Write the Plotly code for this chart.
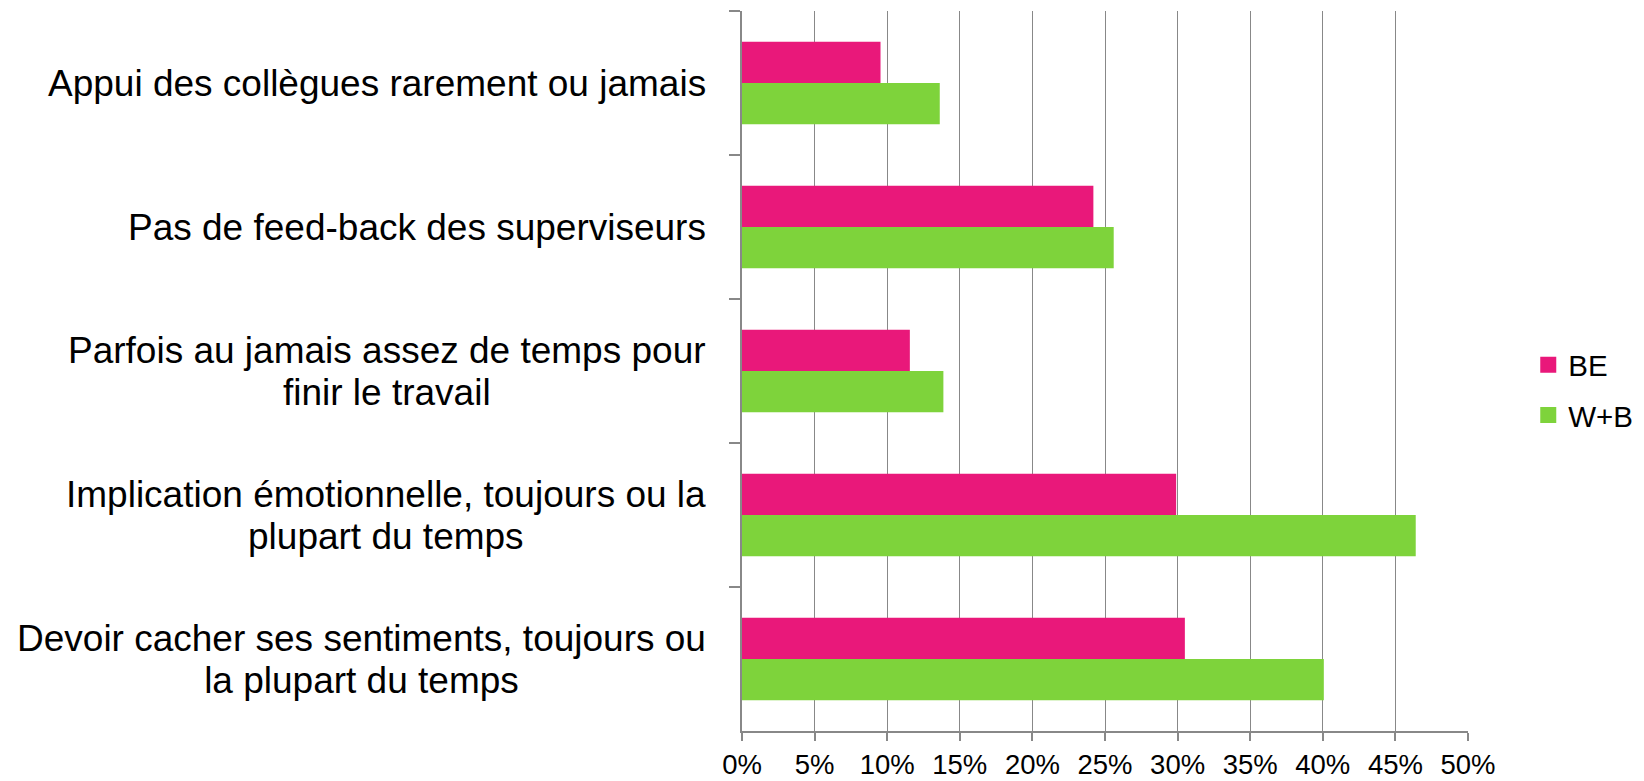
import plotly.graph_objects as go

categories = [
    "Appui des collègues rarement ou jamais",
    "Pas de feed-back des superviseurs",
    "Parfois au jamais assez de temps pour<br>finir le travail",
    "Implication émotionnelle, toujours ou la<br>plupart du temps",
    "Devoir cacher ses sentiments, toujours ou<br>la plupart du temps",
]
series_names = ["BE", "W+B"]
be_values = [0.0954, 0.242, 0.1156, 0.299, 0.305]
wb_values = [0.1362, 0.256, 0.1387, 0.464, 0.4007]
tick_values = [0, 0.05, 0.10, 0.15, 0.20, 0.25, 0.30, 0.35, 0.40, 0.45, 0.50]
tick_labels = ["0%", "5%", "10%", "15%", "20%", "25%", "30%", "35%", "40%", "45%", "50%"]

colors = ["#E9187A", "#7ED33B"]
FONT = "Arial, Liberation Sans, sans-serif"
GRID = "#888888"

fig = go.Figure()
for name, vals, col in zip(series_names, [be_values, wb_values], colors):
    fig.add_trace(go.Bar(
        y=categories, x=vals, name=name, orientation="h",
        marker=dict(color=col, line=dict(width=0)),
        showlegend=False,
    ))
# legend entries with larger square swatches
for name, col in zip(series_names, colors):
    fig.add_trace(go.Scatter(
        x=[None], y=[None], mode="markers", name=name,
        marker=dict(symbol="square", size=16, color=col),
        legendgroup=name, showlegend=True,
    ))

# category labels: centered multi-line annotations, tighter line spacing
label_size = 37
line_gap = 41.7
base_size = line_gap / 1.3
for cat in categories:
    lines = cat.split("<br>")
    txt = "<br>".join(
        "<span style='font-size:%dpx'>%s</span>" % (label_size, ln) for ln in lines
    )
    fig.add_annotation(
        x=-0.047, xref="paper", y=cat, yref="y",
        text=txt, showarrow=False, xanchor="right", yanchor="middle",
        align="center",
        font=dict(family=FONT, size=base_size, color="#000000"),
    )

# figure sits inside an 8px page margin
fig.update_layout(
    width=1636, height=773,
    margin=dict(l=734, r=176, t=3, b=50, autoexpand=False),
    paper_bgcolor="white", plot_bgcolor="white",
    barmode="group", bargap=0.428, bargroupgap=0,
    font=dict(family=FONT, color="#000000"),
    legend=dict(
        x=1.083, y=0.4736, xanchor="left", yanchor="middle",
        font=dict(family=FONT, size=29.5, color="#000000"),
        tracegroupgap=9, traceorder="grouped",
        bgcolor="rgba(0,0,0,0)",
    ),
)
fig.update_xaxes(
    range=[0, 0.5], tickvals=tick_values, ticktext=tick_labels,
    showgrid=True, gridcolor=GRID, gridwidth=1.4,
    showline=True, linecolor=GRID, linewidth=1.5,
    ticks="outside", ticklen=8, tickcolor=GRID, tickwidth=1.5,
    tickfont=dict(family=FONT, size=27.5, color="#000000"),
    ticklabelstandoff=0, automargin=False,
    zeroline=False, fixedrange=True,
)
fig.update_yaxes(
    autorange="reversed", categoryorder="array", categoryarray=categories,
    showticklabels=False, showgrid=False, automargin=False,
    showline=True, linecolor=GRID, linewidth=1.5,
    ticks="outside", ticklen=11, tickcolor=GRID, tickwidth=1.5,
    tickson="boundaries", zeroline=False, fixedrange=True,
)

fig.write_html("out.html")
